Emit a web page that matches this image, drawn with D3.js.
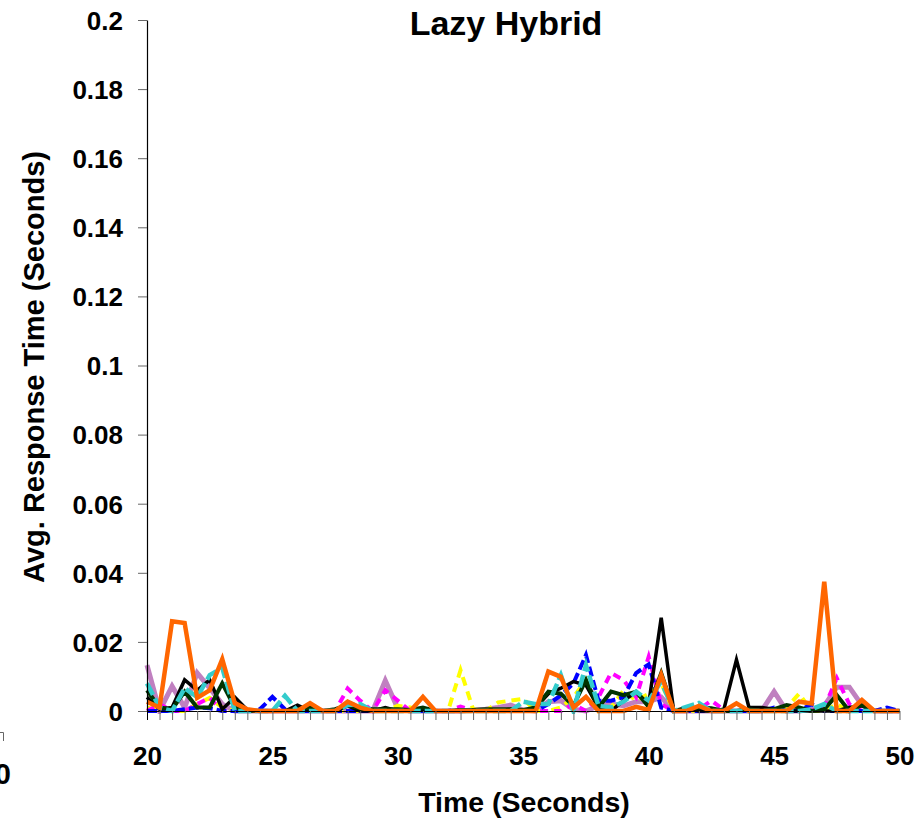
<!DOCTYPE html>
<html>
<head>
<meta charset="utf-8">
<script src="https://cdn.jsdelivr.net/npm/d3@7"></script>
<style>
  html, body { margin: 0; padding: 0; background: #fff; }
  svg { display: block; }
  text { font-family: "Liberation Sans", Arial, sans-serif; font-weight: bold; fill: #000; }
</style>
</head>
<body>
<svg id="chart" width="921" height="820"></svg>
<script>
// Sample times (seconds), one sample every half second
const times = [20,20.5,21,21.5,22,22.5,23,23.5,24,24.5,25,25.5,26,26.5,27,27.5,28,28.5,29,29.5,
  30,30.5,31,31.5,32,32.5,33,33.5,34,34.5,35,35.5,36,36.5,37,37.5,38,38.5,39,39.5,
  40,40.5,41,41.5,42,42.5,43,43.5,44,44.5,45,45.5,46,46.5,47,47.5,48,48.5,49,49.5,50];

// Average response time per client (seconds)
const clientLavender = [0.0133,0,0.0072,0.001,0.011,0.0066,0.002,0,0,0,
  0,0,0,0,0,0,0,0,0,0.0088,
  0.0007,0,0,0,0,0,0.0003,0.0005,0.001,0.0017,
  0.0003,0,0.0027,0.003,0.0005,0,0.0015,0.002,0.0015,0.0027,
  0.0027,0.004,0,0,0,0,0,0,0,0,
  0.0056,0,0,0.0005,0.0015,0.0069,0.0069,0.0017,0,0,
  0];
const clientYellow = [0.001,0,0,0,0.002,0.0038,0.001,0,0,0,
  0,0,0,0,0,0,0,0,0,0,
  0.0015,0.001,0,0,0,0.0118,0.0005,0,0.0025,0.003,
  0.0035,0,0,0.001,0.004,0.009,0,0.001,0.006,0.003,
  0.005,0.008,0,0,0,0,0,0,0,0,
  0,0.001,0.005,0,0,0.002,0,0,0,0,
  0];
const clientMagenta = [0,0.002,0,0,0.002,0.0038,0,0,0,0,
  0,0,0,0,0,0,0.0065,0.003,0,0.006,
  0.003,0,0,0,0,0.0013,0,0,0,0,
  0,0,0,0,0.002,0,0.004,0.011,0.009,0.004,
  0.0157,0.002,0,0,0.0005,0.003,0.0003,0,0,0,
  0,0,0,0,0.001,0.0095,0.002,0,0,0,
  0];
const clientBlue = [0,0,0,0.0005,0.001,0.0008,0,0,0,0.0005,
  0.0041,0.0005,0,0,0,0,0,0,0,0,
  0,0,0,0,0,0,0,0,0,0,
  0,0,0.002,0.0045,0.008,0.0162,0.003,0.003,0.004,0.011,
  0.0135,0.001,0,0,0,0,0,0,0,0,
  0.001,0,0,0.002,0,0,0,0,0,0.001,
  0];
const clientBlack = [0.004,0.0005,0.001,0.009,0.006,0.009,0.0005,0.004,0.0003,0,
  0,0,0.0017,0,0,0,0.0015,0,0,0.001,
  0,0,0.0005,0,0,0,0,0,0,0.0005,
  0,0.001,0.005,0.0066,0.0085,0.0075,0.001,0,0.003,0.0055,
  0.002,0.027,0,0.001,0,0,0.0005,0.0148,0.001,0.001,
  0.0005,0,0,0,0,0,0.001,0.0015,0,0,
  0];
const clientDarkGreen = [0.006,0.001,0.0005,0.0056,0.001,0.001,0.008,0.001,0,0,
  0,0,0.0005,0.001,0,0.0005,0.0017,0.0007,0.0005,0.0005,
  0.0005,0.0003,0.001,0,0,0.0003,0.0003,0.0005,0.0005,0.0005,
  0.0003,0.001,0.0056,0.005,0.0015,0.009,0.001,0.0056,0.0046,0.0056,
  0.0012,0.011,0,0.0005,0.001,0.0008,0,0,0.0005,0,
  0.0005,0.0017,0.001,0,0.0005,0.0046,0,0.0017,0,0,
  0];
const clientCyan = [0.008,0.001,0,0.0066,0.004,0.0104,0.0125,0,0,0,
  0,0.0044,0,0,0,0,0.0017,0.002,0,0,
  0,0,0,0,0,0,0,0,0,0,
  0.0027,0.002,0.002,0.0104,0,0.0133,0.0015,0.001,0.0027,0.0056,
  0.003,0.0085,0,0.0012,0.0023,0,0,0,0,0,
  0,0,0,0.0005,0.002,0,0,0,0,0,
  0];
const clientOrange = [0.0027,0.001,0.026,0.0255,0.0038,0.006,0.015,0.0023,0.0005,0,
  0,0,0,0.0023,0,0,0.0027,0.001,0,0,
  0,0,0.0041,0,0,0,0,0,0,0,
  0,0,0.0114,0.0099,0.001,0.0041,0,0,0,0.0012,
  0.0003,0.0104,0,0,0.0015,0,0,0.0022,0,0,
  0,0,0.0027,0.0022,0.0374,0,0,0.0032,0,0,
  0];

// Axis ticks and labels
const yTickValues = [0,0.02,0.04,0.06,0.08,0.1,0.12,0.14,0.16,0.18,0.2];
const yTickLabels = ["0","0.02","0.04","0.06","0.08","0.1","0.12","0.14","0.16","0.18","0.2"];
const xTickValues = [20,25,30,35,40,45,50];
const xTickLabels = ["20","25","30","35","40","45","50"];

// Line styles, in drawing order (last on top)
const seriesStyles = [
  { values: clientLavender,  color: "#C080C0", width: 5,   dash: null },
  { values: clientYellow,    color: "#FFFF00", width: 4,   dash: "9,6" },
  { values: clientMagenta,   color: "#FF00FF", width: 4,   dash: "8,6" },
  { values: clientBlue,      color: "#0000FF", width: 4,   dash: "10,4" },
  { values: clientBlack,     color: "#000000", width: 3.5, dash: null },
  { values: clientDarkGreen, color: "#003300", width: 4,   dash: null },
  { values: clientCyan,      color: "#33CCCC", width: 4.5, dash: "13,4" },
  { values: clientOrange,    color: "#FF6600", width: 4.5, dash: null }
];

const svg = d3.select("#chart");
const x = d3.scaleLinear().domain([20, 50]).range([147, 899.5]);
const y = d3.scaleLinear().domain([0, 0.2]).range([711, 20]);

// Keep the line joins from poking below the x axis
svg.append("defs").append("clipPath")
  .attr("id", "plot-clip")
  .append("rect")
  .attr("x", 140).attr("y", 0)
  .attr("width", 770).attr("height", 714);

// Series lines
const line = d3.line()
  .x((d, i) => x(times[i]))
  .y(d => y(d));

svg.append("g")
  .attr("clip-path", "url(#plot-clip)")
  .selectAll("path")
  .data(seriesStyles)
  .join("path")
  .attr("fill", "none")
  .attr("stroke", s => s.color)
  .attr("stroke-width", s => s.width)
  .attr("stroke-dasharray", s => s.dash)
  .attr("stroke-linejoin", "miter")
  .attr("d", s => line(s.values));

// Y axis
const yAxis = svg.append("g")
  .attr("transform", "translate(147,0)")
  .call(d3.axisLeft(y)
    .tickValues(yTickValues)
    .tickFormat((d, i) => yTickLabels[i])
    .tickSize(9)
    .tickSizeOuter(0)
    .tickPadding(15));
yAxis.select(".domain").attr("stroke", "#000").attr("stroke-width", 1.2);
yAxis.selectAll(".tick line").attr("stroke", "#666");
yAxis.selectAll(".tick text")
  .attr("font-size", 26)
  .attr("font-family", "Liberation Sans, Arial, sans-serif")
  .attr("font-weight", "bold")
  .attr("dy", "0.36em");

// X axis: a tick every half second, labels every five seconds
const xAxis = svg.append("g")
  .attr("transform", "translate(0,711)")
  .call(d3.axisBottom(x)
    .tickValues(times)
    .tickFormat(d => {
      const k = xTickValues.indexOf(d);
      return k >= 0 ? xTickLabels[k] : "";
    })
    .tickSize(9)
    .tickSizeOuter(0));
xAxis.select(".domain").attr("stroke", "#000").attr("stroke-width", 1.2);
xAxis.selectAll(".tick line").attr("stroke", d => d === 20 ? "#000" : "#666");
xAxis.selectAll(".tick text")
  .attr("font-size", 26)
  .attr("font-family", "Liberation Sans, Arial, sans-serif")
  .attr("font-weight", "bold")
  .attr("y", 54)
  .attr("dy", null);

// Titles
svg.append("text")
  .attr("x", 506).attr("y", 35)
  .attr("text-anchor", "middle")
  .attr("font-size", 34)
  .text("Lazy Hybrid");

svg.append("text")
  .attr("transform", "translate(44,367) rotate(-90)")
  .attr("text-anchor", "middle")
  .attr("font-size", 29)
  .text("Avg. Response Time (Seconds)");

svg.append("text")
  .attr("x", 524).attr("y", 812)
  .attr("text-anchor", "middle")
  .attr("font-size", 28.5)
  .text("Time (Seconds)");

// Edge of the neighbouring panel on the left
svg.append("path")
  .attr("d", "M0,732.5H3.5V741")
  .attr("fill", "none")
  .attr("stroke", "#666")
  .attr("stroke-width", 1);
svg.append("text")
  .attr("x", 11).attr("y", 784)
  .attr("text-anchor", "end")
  .attr("font-size", 29)
  .text("0");
</script>
</body>
</html>
